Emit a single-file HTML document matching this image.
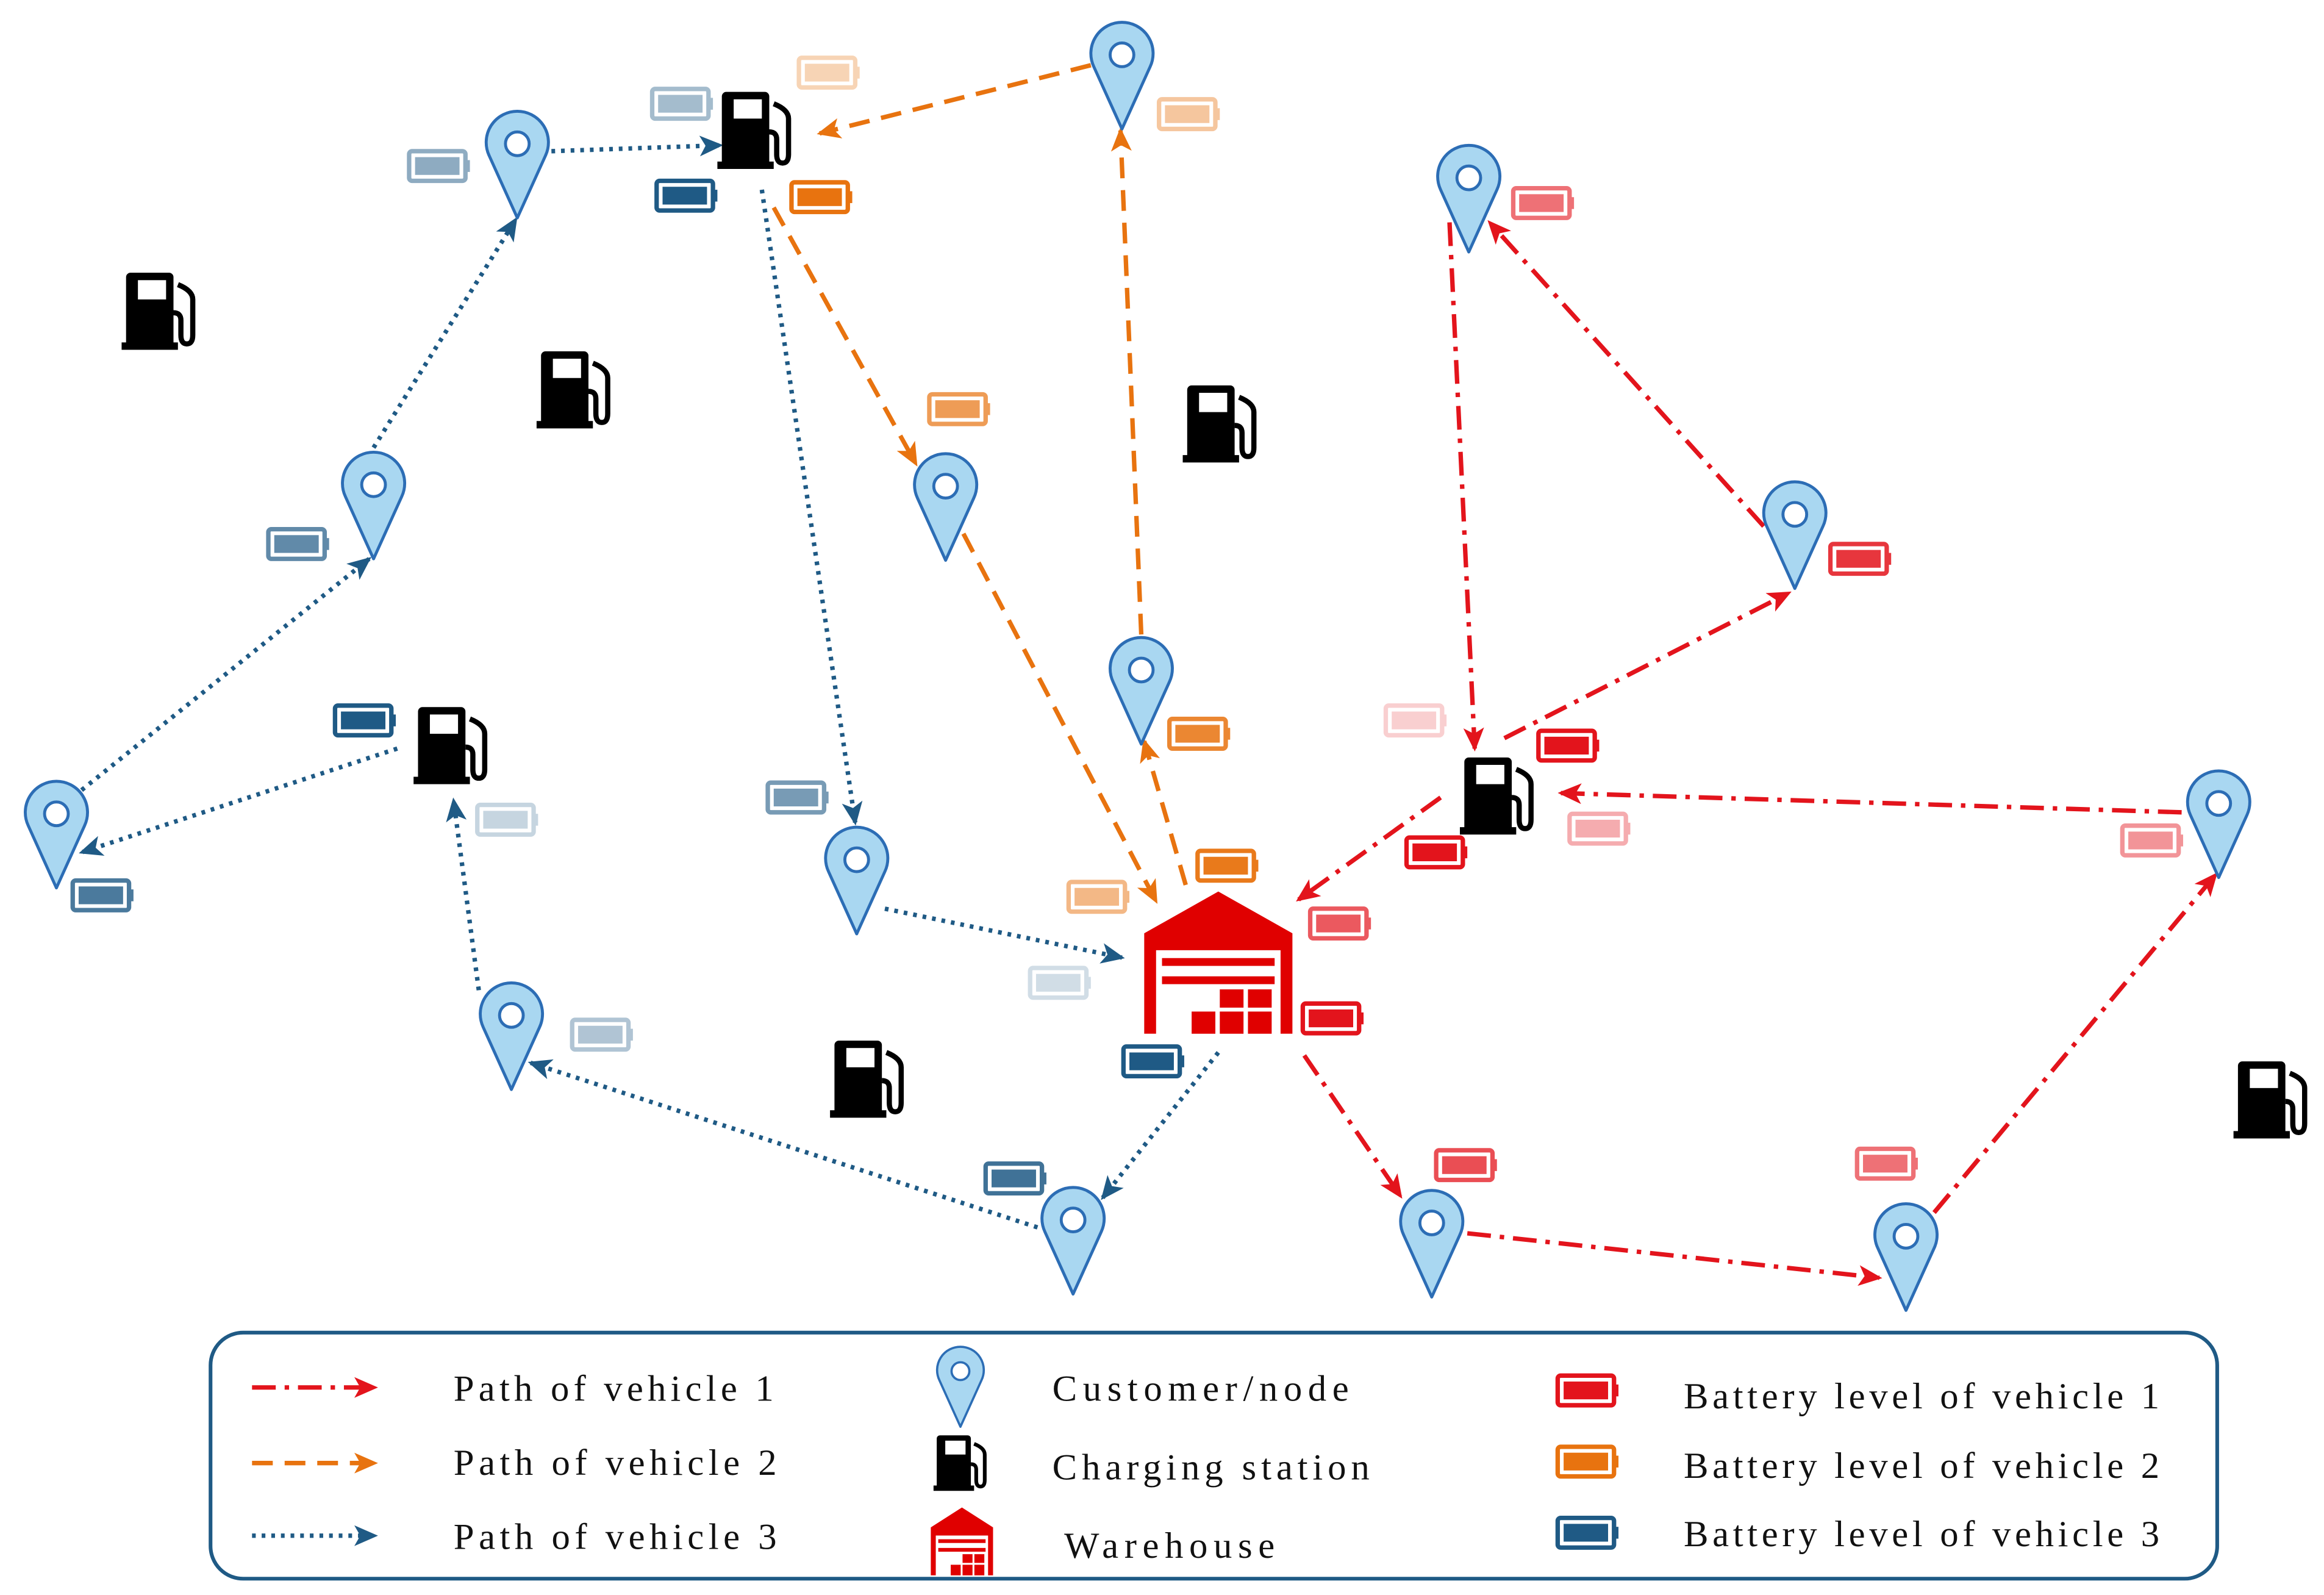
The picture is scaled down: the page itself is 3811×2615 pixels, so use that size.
<!DOCTYPE html>
<html><head><meta charset="utf-8"><style>
html,body{margin:0;padding:0;background:#fff;}
svg{display:block;}
text{font-family:"Liberation Serif",serif;font-size:25px;fill:#111;}
</style></head><body>
<svg width="3811" height="2615" viewBox="0 0 1568 1076" xmlns="http://www.w3.org/2000/svg">
<defs>
<marker id="ar" markerWidth="16" markerHeight="14" refX="14" refY="7" orient="auto" markerUnits="userSpaceOnUse"><path d="M0,0 L16,7 L0,14 L4,7 z" fill="#e3141c"/></marker>
<marker id="ao" markerWidth="16" markerHeight="14" refX="14" refY="7" orient="auto" markerUnits="userSpaceOnUse"><path d="M0,0 L16,7 L0,14 L4,7 z" fill="#e8730f"/></marker>
<marker id="ab" markerWidth="16" markerHeight="14" refX="14" refY="7" orient="auto" markerUnits="userSpaceOnUse"><path d="M0,0 L16,7 L0,14 L4,7 z" fill="#1f5a85"/></marker>
<g id="pin"><path d="M0,50 L-19,8 A21,21 0 1 1 19,8 Z" fill="#a9d7f1" stroke="#2c6db5" stroke-width="2" stroke-linejoin="round"/><circle cx="0" cy="0" r="8" fill="#fff" stroke="#2c6db5" stroke-width="2"/></g>
<g id="pump"><path d="M-22,-26 h26 a3,3 0 0 1 3,3 v44 h3 v5 h-38 v-5 h3 v-44 a3,3 0 0 1 3,-3 z" fill="#000"/><rect x="-17" y="-21" width="19" height="13" fill="#fff"/><path d="M10,-18 q10,4 10,10 v24 q0,6 -4,6 q-4,0 -4,-6 v-10 q0,-5 -5,-5" fill="none" stroke="#000" stroke-width="3.5"/></g>
<g id="bat"><rect x="-20" y="-10" width="38" height="20" rx="2" fill="none" stroke="currentColor" stroke-width="3"/><rect x="-16" y="-6" width="30" height="12" fill="currentColor"/><rect x="18" y="-4" width="3" height="8" fill="currentColor"/></g>
<g id="wh"><path d="M-50,20 L0,-12 L50,20 V97 H42 V33 H-42 V97 H-50 Z" fill="#e00000"/><rect x="-38" y="39" width="76" height="6" fill="#e00000"/><rect x="-38" y="53" width="76" height="6" fill="#e00000"/><rect x="1" y="63" width="16" height="14" fill="#e00000"/><rect x="20" y="63" width="16" height="14" fill="#e00000"/><rect x="-18" y="80" width="16" height="17" fill="#e00000"/><rect x="1" y="80" width="16" height="17" fill="#e00000"/><rect x="20" y="80" width="16" height="17" fill="#e00000"/></g>
</defs>

<g stroke="#1f5a85" stroke-width="3" stroke-dasharray="2.5 4" fill="none" marker-end="url(#ab)">
<line x1="372" y1="102" x2="486" y2="98"/>
<line x1="252" y1="302" x2="348" y2="148"/>
<line x1="55" y1="533" x2="249" y2="377"/>
<line x1="268" y1="505" x2="55" y2="575"/>
<line x1="323" y1="668" x2="306" y2="540"/>
<line x1="700" y1="828" x2="358" y2="717"/>
<line x1="822" y1="710" x2="744" y2="808"/>
<line x1="597" y1="613" x2="757" y2="646"/>
<line x1="514" y1="128" x2="577" y2="555"/>
</g>
<g stroke="#e8730f" stroke-width="3" stroke-dasharray="14 8" fill="none" marker-end="url(#ao)">
<line x1="736" y1="44" x2="553" y2="90"/>
<line x1="770" y1="428" x2="756" y2="88"/>
<line x1="522" y1="140" x2="618" y2="313"/>
<line x1="650" y1="360" x2="780" y2="608"/>
<line x1="800" y1="597" x2="772" y2="500"/>
</g>
<g stroke="#e3141c" stroke-width="3" stroke-dasharray="16 6 3 6" fill="none" marker-end="url(#ar)">
<line x1="978" y1="150" x2="995" y2="505"/>
<line x1="1190" y1="355" x2="1005" y2="150"/>
<line x1="1015" y1="498" x2="1207" y2="400"/>
<line x1="1472" y1="548" x2="1053" y2="535"/>
<line x1="972" y1="538" x2="876" y2="607"/>
<line x1="880" y1="712" x2="945" y2="807"/>
<line x1="990" y1="832" x2="1268" y2="862"/>
<line x1="1305" y1="818" x2="1495" y2="590"/>
</g>

<use href="#pin" x="349" y="97"/><use href="#pin" x="757" y="37"/><use href="#pin" x="991" y="120"/>
<use href="#pin" x="252" y="327"/><use href="#pin" x="638" y="328"/><use href="#pin" x="1211" y="347"/>
<use href="#pin" x="770" y="452"/><use href="#pin" x="38" y="549"/><use href="#pin" x="578" y="580"/>
<use href="#pin" x="1497" y="542"/><use href="#pin" x="345" y="685"/><use href="#pin" x="724" y="823"/>
<use href="#pin" x="966" y="825"/><use href="#pin" x="1286" y="834"/>

<use href="#pump" x="512" y="88"/><use href="#pump" x="110" y="210"/><use href="#pump" x="390" y="263"/>
<use href="#pump" x="826" y="286"/><use href="#pump" x="307" y="503"/><use href="#pump" x="1013" y="537"/>
<use href="#pump" x="588" y="728"/><use href="#pump" x="1535" y="742"/>

<g transform="translate(822,612) scale(1,0.88)"><use href="#wh"/></g>

<g color="#1f5a85">
<use href="#bat" x="296" y="112" opacity="0.5"/><use href="#bat" x="460" y="70" opacity="0.4"/><use href="#bat" x="463" y="132"/>
<use href="#bat" x="201" y="367" opacity="0.7"/><use href="#bat" x="246" y="486"/><use href="#bat" x="342" y="553" opacity="0.25"/>
<use href="#bat" x="69" y="604" opacity="0.8"/><use href="#bat" x="538" y="538" opacity="0.6"/><use href="#bat" x="715" y="663" opacity="0.2"/>
<use href="#bat" x="406" y="698" opacity="0.35"/><use href="#bat" x="778" y="716"/><use href="#bat" x="685" y="795" opacity="0.85"/>
</g>
<g color="#e8730f">
<use href="#bat" x="559" y="49" opacity="0.3"/><use href="#bat" x="802" y="77" opacity="0.4"/><use href="#bat" x="554" y="133"/>
<use href="#bat" x="647" y="276" opacity="0.7"/><use href="#bat" x="809" y="495" opacity="0.85"/><use href="#bat" x="828" y="584" opacity="0.95"/>
<use href="#bat" x="741" y="605" opacity="0.5"/>
</g>
<g color="#e3141c">
<use href="#bat" x="1041" y="137" opacity="0.6"/><use href="#bat" x="1255" y="377" opacity="0.85"/><use href="#bat" x="955" y="486" opacity="0.2"/>
<use href="#bat" x="1058" y="503"/><use href="#bat" x="1079" y="559" opacity="0.35"/><use href="#bat" x="969" y="575"/>
<use href="#bat" x="904" y="623" opacity="0.7"/><use href="#bat" x="899" y="687"/><use href="#bat" x="989" y="786" opacity="0.75"/>
<use href="#bat" x="1273" y="785" opacity="0.6"/><use href="#bat" x="1452" y="567" opacity="0.45"/>
</g>

<rect x="142" y="899" width="1354" height="166" rx="22" fill="#fff" stroke="#1f5a85" stroke-width="2.5"/>
<line x1="170" y1="936" x2="253" y2="936" stroke="#e3141c" stroke-width="3" stroke-dasharray="16 6 3 6" marker-end="url(#ar)"/>
<line x1="170" y1="987" x2="253" y2="987" stroke="#e8730f" stroke-width="3" stroke-dasharray="14 8" marker-end="url(#ao)"/>
<line x1="170" y1="1036" x2="253" y2="1036" stroke="#1f5a85" stroke-width="3" stroke-dasharray="2.5 4" marker-end="url(#ab)"/>
<text x="306" y="945" textLength="216">Path of vehicle 1</text>
<text x="306" y="995" textLength="218">Path of vehicle 2</text>
<text x="306" y="1045" textLength="218">Path of vehicle 3</text>
<g transform="translate(648,925) scale(0.75)"><use href="#pin"/></g>
<g transform="translate(650,987) scale(0.72)"><use href="#pump"/></g>
<g transform="translate(649,1022) scale(0.42)"><use href="#wh"/></g>
<text x="710" y="945" textLength="200">Customer/node</text>
<text x="710" y="998" textLength="214">Charging station</text>
<text x="718" y="1051" textLength="142">Warehouse</text>
<use href="#bat" x="1071" y="938" color="#e3141c"/>
<use href="#bat" x="1071" y="986" color="#e8730f"/>
<use href="#bat" x="1071" y="1034" color="#1f5a85"/>
<text x="1136" y="950" textLength="321">Battery level of vehicle 1</text>
<text x="1136" y="997" textLength="321">Battery level of vehicle 2</text>
<text x="1136" y="1043" textLength="321">Battery level of vehicle 3</text>
</svg>
</body></html>
